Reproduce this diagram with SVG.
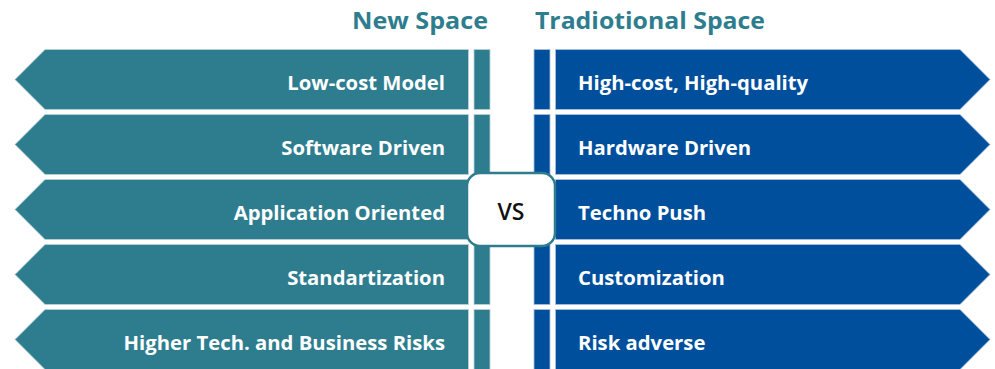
<svg xmlns="http://www.w3.org/2000/svg" width="995" height="369" viewBox="0 0 995 369">
<style>
.t{fill:#2E7D8F;stroke:#b9d0d8;stroke-width:0.8}
.b{fill:#004F9C;stroke:#a9bfd8;stroke-width:0.8}
.lbl{font-family:"Open Sans",Lato,sans-serif;font-weight:bold;font-size:20.3px;fill:#ffffff}
.hd{font-family:"Open Sans",Lato,sans-serif;font-weight:bold;font-size:24px;fill:#2E7D8F}
</style>
<rect width="995" height="369" fill="#ffffff"/>
<text class="hd" x="352" y="29" textLength="136" lengthAdjust="spacingAndGlyphs">New Space</text>
<text class="hd" x="535" y="29" textLength="230" lengthAdjust="spacingAndGlyphs">Tradiotional Space</text>
<g id="left-rows">
<g id="l1"><polygon class="t" points="15,79.5 45,49.5 468.5,49.5 468.5,109.5 45,109.5"/><rect class="t" x="474" y="49.5" width="16" height="60"/><text class="lbl" x="445" y="90" text-anchor="end">Low-cost Model</text></g>
<g id="l2"><polygon class="t" points="15,144.5 45,114.5 468.5,114.5 468.5,174.5 45,174.5"/><rect class="t" x="474" y="114.5" width="16" height="60"/><text class="lbl" x="445" y="155" text-anchor="end">Software Driven</text></g>
<g id="l3"><polygon class="t" points="15,209.5 45,179.5 468.5,179.5 468.5,239.5 45,239.5"/><rect class="t" x="474" y="179.5" width="16" height="60"/><text class="lbl" x="445" y="220" text-anchor="end">Application Oriented</text></g>
<g id="l4"><polygon class="t" points="15,274.5 45,244.5 468.5,244.5 468.5,304.5 45,304.5"/><rect class="t" x="474" y="244.5" width="16" height="60"/><text class="lbl" x="445" y="285" text-anchor="end">Standartization</text></g>
<g id="l5"><polygon class="t" points="15,339.5 45,309.5 468.5,309.5 468.5,369.5 45,369.5"/><rect class="t" x="474" y="309.5" width="16" height="60"/><text class="lbl" x="445" y="350" text-anchor="end">Higher Tech. and Business Risks</text></g>
</g>
<g id="right-rows">
<g id="r1"><rect class="b" x="534" y="49.5" width="16" height="60"/><polygon class="b" points="555.5,49.5 960,49.5 990,79.5 960,109.5 555.5,109.5"/><text class="lbl" x="578" y="90">High-cost, High-quality</text></g>
<g id="r2"><rect class="b" x="534" y="114.5" width="16" height="60"/><polygon class="b" points="555.5,114.5 960,114.5 990,144.5 960,174.5 555.5,174.5"/><text class="lbl" x="578" y="155">Hardware Driven</text></g>
<g id="r3"><rect class="b" x="534" y="179.5" width="16" height="60"/><polygon class="b" points="555.5,179.5 960,179.5 990,209.5 960,239.5 555.5,239.5"/><text class="lbl" x="578" y="220">Techno Push</text></g>
<g id="r4"><rect class="b" x="534" y="244.5" width="16" height="60"/><polygon class="b" points="555.5,244.5 960,244.5 990,274.5 960,304.5 555.5,304.5"/><text class="lbl" x="578" y="285">Customization</text></g>
<g id="r5"><rect class="b" x="534" y="309.5" width="16" height="60"/><polygon class="b" points="555.5,309.5 960,309.5 990,339.5 960,369.5 555.5,369.5"/><text class="lbl" x="578" y="350">Risk adverse</text></g>
</g>
<g id="vs">
<rect x="467" y="173" width="88" height="73" rx="13" ry="13" fill="#ffffff" stroke="#2E7D8F" stroke-width="2.5"/>
<text x="511" y="220" text-anchor="middle" font-family="'Open Sans',Lato,sans-serif" font-weight="600" font-size="23" fill="#111111">VS</text>
</g>
<g id="connectors"/>
</svg>
